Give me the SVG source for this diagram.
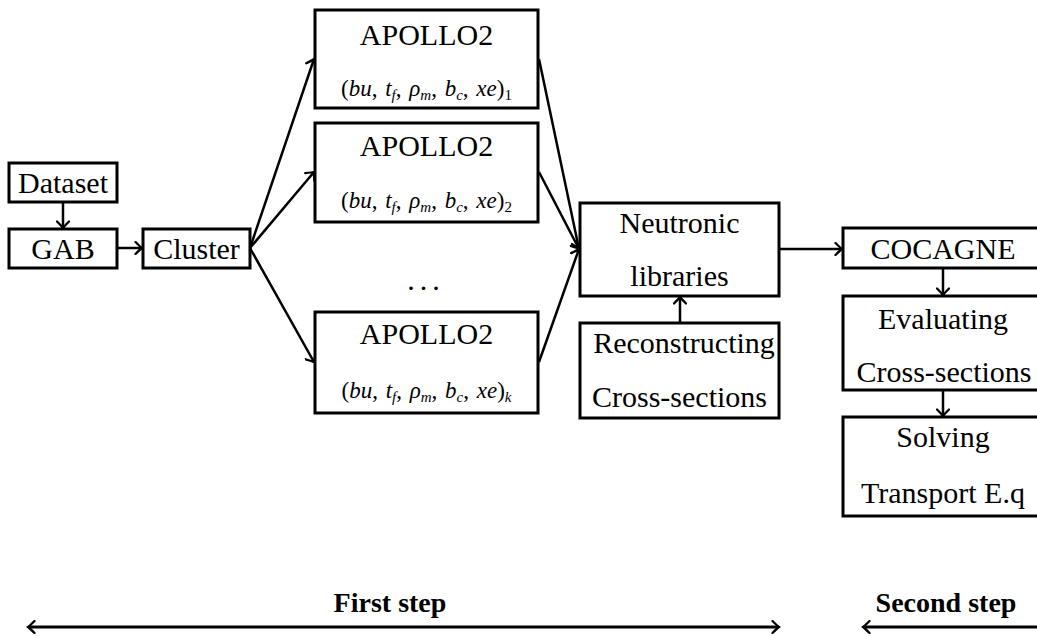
<svg xmlns="http://www.w3.org/2000/svg" width="1037" height="636" viewBox="0 0 1037 636">
<style>
  .box{fill:#fff;stroke:#000;stroke-width:3}
  .t{font-family:"Liberation Serif","DejaVu Serif",serif;font-size:30px;fill:#000;text-anchor:middle}
  .f{font-family:"Liberation Serif","DejaVu Serif",serif;font-size:23px;fill:#000;text-anchor:middle;word-spacing:2px}
  .i{font-style:italic}
  .sb{font-size:15px}
  .b{font-family:"Liberation Serif","DejaVu Serif",serif;font-size:28px;font-weight:bold;fill:#000;text-anchor:middle}
  .c{fill:none;stroke:#000;stroke-width:2.5}
  .s{fill:none;stroke:#000;stroke-width:3}
</style>
<defs>
  <marker id="ah" viewBox="-8 -7 10 14" markerWidth="10" markerHeight="14" refX="0" refY="0" orient="auto-start-reverse" markerUnits="userSpaceOnUse">
    <path d="M-6.5,-6 Q-1.5,-1 0,0 Q-1.5,1 -6.5,6" fill="none" stroke="#000" stroke-width="2.3" stroke-linecap="round"/>
  </marker>
</defs>
<g id="connectors">
  <line class="c" x1="63" y1="202" x2="63" y2="228" marker-end="url(#ah)"/>
  <line class="c" x1="117" y1="248" x2="142" y2="248" marker-end="url(#ah)"/>
  <line class="c" x1="250" y1="248" x2="314" y2="59" marker-end="url(#ah)"/>
  <line class="c" x1="250" y1="248" x2="314" y2="172" marker-end="url(#ah)"/>
  <line class="c" x1="250" y1="248" x2="314" y2="362" marker-end="url(#ah)"/>
  <line class="c" x1="539" y1="59" x2="579" y2="249" marker-end="url(#ah)"/>
  <line class="c" x1="539" y1="172" x2="579" y2="249" marker-end="url(#ah)"/>
  <line class="c" x1="539" y1="362" x2="579" y2="249" marker-end="url(#ah)"/>
  <line class="c" x1="680" y1="323" x2="680" y2="297" marker-end="url(#ah)"/>
  <line class="c" x1="779" y1="249" x2="842" y2="249" marker-end="url(#ah)"/>
  <line class="c" x1="943" y1="268" x2="943" y2="295" marker-end="url(#ah)"/>
  <line class="c" x1="943" y1="390" x2="943" y2="416" marker-end="url(#ah)"/>
</g>
<g id="n-dataset"><rect class="box" x="9" y="163" width="108" height="39"/><text class="t" x="63" y="193">Dataset</text></g>
<g id="n-gab"><rect class="box" x="9" y="229" width="108" height="39"/><text class="t" x="63" y="259">GAB</text></g>
<g id="n-cluster"><rect class="box" x="143" y="229" width="107" height="39"/><text class="t" x="196.5" y="259">Cluster</text></g>
<g id="n-apollo1"><rect class="box" x="315" y="10" width="223" height="98"/><text class="t" x="426.5" y="45">APOLLO2</text>
  <text class="f" x="426.5" y="96">(<tspan class="i">bu</tspan>, <tspan class="i">t</tspan><tspan class="i sb" dy="4">f</tspan><tspan dy="-4">, </tspan><tspan class="i">ρ</tspan><tspan class="i sb" dy="4">m</tspan><tspan dy="-4">, </tspan><tspan class="i">b</tspan><tspan class="i sb" dy="4">c</tspan><tspan dy="-4">, </tspan><tspan class="i">xe</tspan>)<tspan class="sb" dy="4">1</tspan></text></g>
<g id="n-apollo2"><rect class="box" x="315" y="123" width="223" height="99"/><text class="t" x="426.5" y="156">APOLLO2</text>
  <text class="f" x="426.5" y="208">(<tspan class="i">bu</tspan>, <tspan class="i">t</tspan><tspan class="i sb" dy="4">f</tspan><tspan dy="-4">, </tspan><tspan class="i">ρ</tspan><tspan class="i sb" dy="4">m</tspan><tspan dy="-4">, </tspan><tspan class="i">b</tspan><tspan class="i sb" dy="4">c</tspan><tspan dy="-4">, </tspan><tspan class="i">xe</tspan>)<tspan class="sb" dy="4">2</tspan></text></g>
<g id="n-dots"><text class="t" x="426" y="290" letter-spacing="5">...</text></g>
<g id="n-apollok"><rect class="box" x="315" y="312" width="223" height="101"/><text class="t" x="426.5" y="344">APOLLO2</text>
  <text class="f" x="426.5" y="398">(<tspan class="i">bu</tspan>, <tspan class="i">t</tspan><tspan class="i sb" dy="4">f</tspan><tspan dy="-4">, </tspan><tspan class="i">ρ</tspan><tspan class="i sb" dy="4">m</tspan><tspan dy="-4">, </tspan><tspan class="i">b</tspan><tspan class="i sb" dy="4">c</tspan><tspan dy="-4">, </tspan><tspan class="i">xe</tspan>)<tspan class="i sb" dy="4">k</tspan></text></g>
<g id="n-neutronic"><rect class="box" x="580" y="203" width="199" height="93"/><text class="t" x="679.5" y="233">Neutronic</text><text class="t" x="679.5" y="286">libraries</text></g>
<g id="n-reconstructing"><rect class="box" x="580" y="323" width="199" height="95"/><text class="t" x="684" y="353">Reconstructing</text><text class="t" x="679.5" y="407">Cross-sections</text></g>
<g id="n-cocagne"><rect class="box" x="843" y="228" width="200" height="40"/><text class="t" x="943" y="259">COCAGNE</text></g>
<g id="n-evaluating"><rect class="box" x="843" y="296" width="200" height="94"/><text class="t" x="943" y="329">Evaluating</text><text class="t" x="944" y="382">Cross-sections</text></g>
<g id="n-solving"><rect class="box" x="843" y="417" width="200" height="99"/><text class="t" x="943" y="447">Solving</text><text class="t" x="943" y="503">Transport E.q</text></g>
<g id="steps">
  <text class="b" x="390" y="612">First step</text>
  <line class="s" x1="28" y1="627" x2="779" y2="627" marker-start="url(#ah)" marker-end="url(#ah)"/>
  <text class="b" x="946" y="612">Second step</text>
  <line class="s" x1="863" y1="627" x2="1045" y2="627" marker-start="url(#ah)"/>
</g>
</svg>
